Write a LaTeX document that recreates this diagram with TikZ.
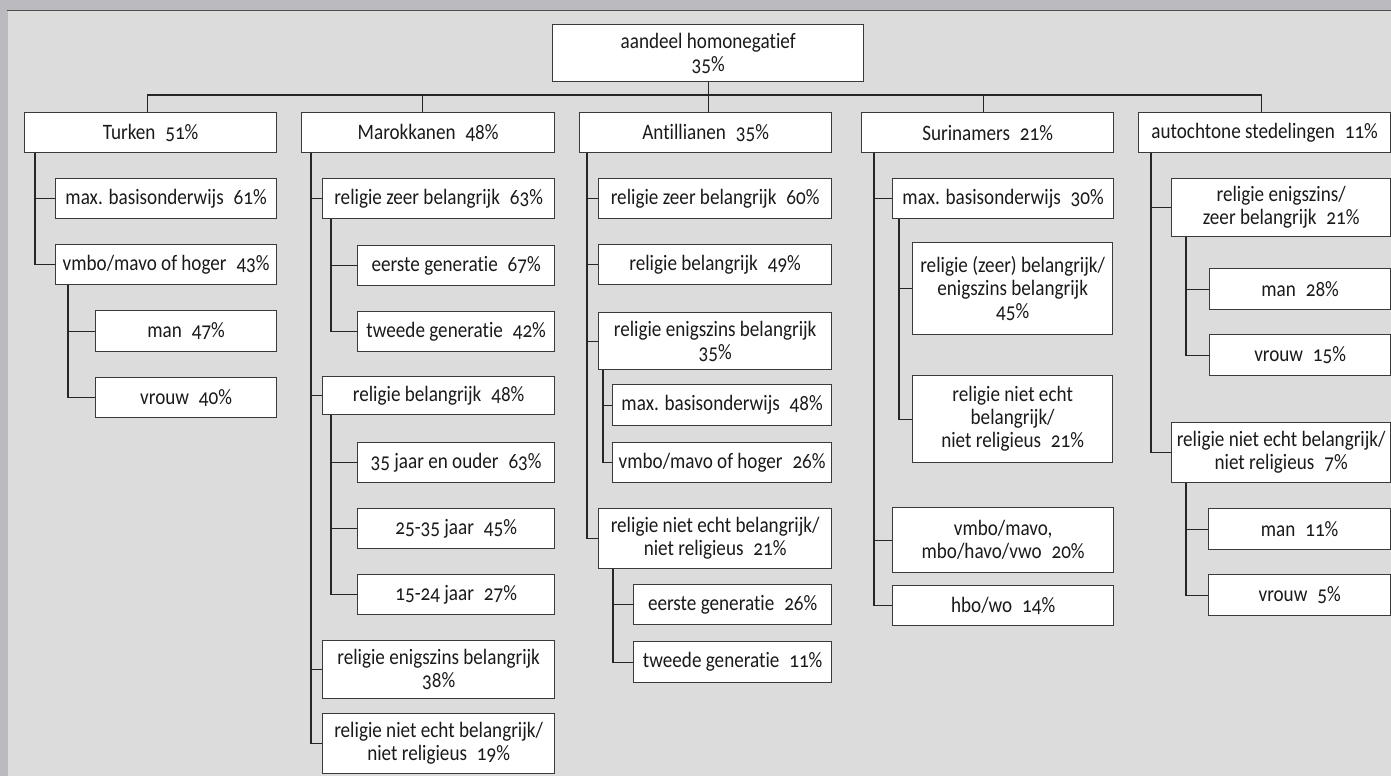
\documentclass[tikz,border=0pt]{standalone}
\usepackage{fontspec}
\setmainfont{Carlito}[Numbers=OldStyle, Ligatures=NoCommon, FakeStretch=0.87]
\definecolor{bg}{HTML}{DCDCDC}
\definecolor{bar}{HTML}{BBBBBF}
\definecolor{boxc}{HTML}{3A3A3A}
\definecolor{txt}{HTML}{1A1A1A}
\newcommand\pc{\hspace{0.45em}}
\newcommand\mybox[6]{\node[box, anchor=north west, minimum width=#4pt-#2pt, minimum height=#5pt-#3pt] (#1) at (#2,#3) {#6};}
\tikzset{
  box/.style={draw=boxc, fill=white, line width=1.3pt, align=center, inner sep=0pt, text=txt,
    font=\fontsize{22}{23}\selectfont},
  conn/.style={draw=black!85, line width=1.3pt}
}
\begin{document}
\begin{tikzpicture}[x=1pt,y=-1pt]
\useasboundingbox (0,0) rectangle (1391,776);
\fill[bg] (0,0) rectangle (1391,776);
\fill[bar] (0,0) rectangle (1391,10);
\fill[bar] (0,0) rectangle (8,776);
\draw[black!70, line width=1.2pt] (7,10.5) -- (1391,10.5);

% root
\mybox{root}{552}{24}{863}{81}{aandeel homonegatief\\35\%}
% level 1
\mybox{tk}{24}{112}{276}{152}{Turken\pc 51\%}
\mybox{mk}{301}{112}{554}{152}{Marokkanen\pc 48\%}
\mybox{an}{579}{112}{831}{152}{Antillianen\pc 35\%}
\mybox{su}{861}{112}{1113}{152}{Surinamers\pc 21\%}
\mybox{au}{1138}{112}{1390}{152}{autochtone stedelingen\pc 11\%}
% Turken
\mybox{tk1}{55}{178}{276}{218}{max. basisonderwijs\pc 61\%}
\mybox{tk2}{55}{244}{276}{284}{vmbo/mavo of hoger\pc 43\%}
\mybox{tk21}{95}{310}{276}{351}{man\pc 47\%}
\mybox{tk22}{95}{377}{276}{417}{vrouw\pc 40\%}
% Marokkanen
\mybox{mk1}{322}{178}{554}{218}{religie zeer belangrijk\pc 63\%}
\mybox{mk11}{357}{245}{554}{285}{eerste generatie\pc 67\%}
\mybox{mk12}{357}{311}{554}{351}{tweede generatie\pc 42\%}
\mybox{mk2}{322}{376}{554}{414}{religie belangrijk\pc 48\%}
\mybox{mk21}{357}{442}{554}{482}{35 jaar en ouder\pc 63\%}
\mybox{mk22}{357}{508}{554}{548}{25-35 jaar\pc 45\%}
\mybox{mk23}{357}{574}{554}{614}{15-24 jaar\pc 27\%}
\mybox{mk3}{322}{640}{554}{698}{religie enigszins belangrijk\\38\%}
\mybox{mk4}{322}{713}{554}{773}{religie niet echt belangrijk/\\niet religieus\pc 19\%}
% Antillianen
\mybox{an1}{598}{178}{831}{218}{religie zeer belangrijk\pc 60\%}
\mybox{an2}{598}{244}{831}{284}{religie belangrijk\pc 49\%}
\mybox{an3}{598}{312}{831}{369}{religie enigszins belangrijk\\35\%}
\mybox{an31}{612}{384}{831}{425}{max. basisonderwijs\pc 48\%}
\mybox{an32}{612}{442}{831}{482}{vmbo/mavo of hoger\pc 26\%}
\mybox{an4}{598}{508}{831}{568}{religie niet echt belangrijk/\\niet religieus\pc 21\%}
\mybox{an41}{633}{584}{831}{624}{eerste generatie\pc 26\%}
\mybox{an42}{633}{641}{831}{682}{tweede generatie\pc 11\%}
% Surinamers
\mybox{su1}{892}{178}{1113}{218}{max. basisonderwijs\pc 30\%}
\mybox{su11}{912}{242}{1112}{334}{religie (zeer) belangrijk/\\enigszins belangrijk\\45\%}
\mybox{su12}{912}{375}{1112}{462}{religie niet echt\\belangrijk/\\niet religieus\pc 21\%}
\mybox{su2}{892}{507}{1113}{572}{vmbo/mavo,\\mbo/havo/vwo\pc 20\%}
\mybox{su3}{892}{585}{1113}{625}{hbo/wo\pc 14\%}
% autochtone
\mybox{au1}{1171}{178}{1390}{236}{religie enigszins/\\zeer belangrijk\pc 21\%}
\mybox{au11}{1209}{268}{1390}{309}{man\pc 28\%}
\mybox{au12}{1209}{334}{1390}{375}{vrouw\pc 15\%}
\mybox{au2}{1171}{422}{1390}{482}{religie niet echt belangrijk/\\niet religieus\pc 7\%}
\mybox{au21}{1208}{508}{1390}{549}{man\pc 11\%}
\mybox{au22}{1208}{574}{1390}{615}{vrouw\pc 5\%}

% bus to root
\draw[conn] ([xshift=-3pt]tk.north) -- ++(0,-17) -| (root.south);
\draw[conn] ([xshift=-5.5pt]mk.north) -- ++(0,-17) -| (root.south);
\draw[conn] ([xshift=3pt]an.north) -- ++(0,-17) -| (root.south);
\draw[conn] ([xshift=-4pt]su.north) -- ++(0,-17) -| (root.south);
\draw[conn] ([xshift=-3.5pt]au.north) -- ++(0,-17) -| (root.south);

% Turken
\foreach \c in {tk1,tk2} \draw[conn] ([xshift=11pt]tk.south west) |- (\c.west);
\foreach \c in {tk21,tk22} \draw[conn] ([xshift=13pt]tk2.south west) |- (\c.west);
% Marokkanen
\foreach \c in {mk1,mk2,mk3,mk4} \draw[conn] ([xshift=10pt]mk.south west) |- (\c.west);
\foreach \c in {mk11,mk12} \draw[conn] ([xshift=9pt]mk1.south west) |- (\c.west);
\foreach \c in {mk21,mk22,mk23} \draw[conn] ([xshift=9pt]mk2.south west) |- (\c.west);
% Antillianen
\foreach \c in {an1,an2,an3,an4} \draw[conn] ([xshift=8pt]an.south west) |- (\c.west);
\foreach \c in {an31,an32} \draw[conn] ([xshift=5pt]an3.south west) |- (\c.west);
\foreach \c in {an41,an42} \draw[conn] ([xshift=15pt]an4.south west) |- (\c.west);
% Surinamers
\foreach \c in {su1,su2,su3} \draw[conn] ([xshift=13pt]su.south west) |- (\c.west);
\foreach \c in {su11,su12} \draw[conn] ([xshift=7pt]su1.south west) |- (\c.west);
% autochtone
\foreach \c in {au1,au2} \draw[conn] ([xshift=13pt]au.south west) |- (\c.west);
\foreach \c in {au11,au12} \draw[conn] ([xshift=15pt]au1.south west) |- (\c.west);
\foreach \c in {au21,au22} \draw[conn] ([xshift=15pt]au2.south west) |- (\c.west);
\end{tikzpicture}
\end{document}
